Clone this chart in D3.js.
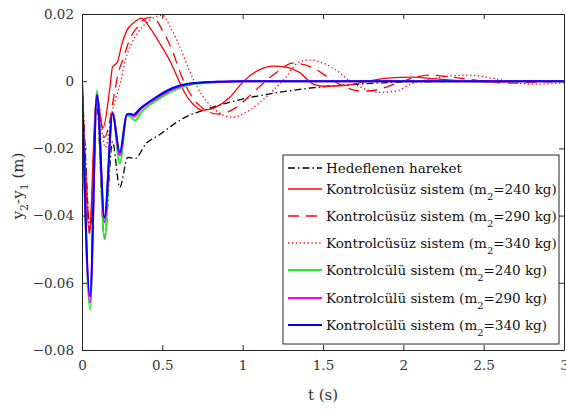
<!DOCTYPE html>
<html>
<head>
<meta charset="utf-8">
<script src="https://cdn.jsdelivr.net/npm/d3@7"></script>
<style>
  body { margin: 0; background: #fff; }
  svg { display: block; }
</style>
</head>
<body>
<div id="chart"></div>
<script>
const width = 566, height = 410;
const margin = { left: 82, right: 2, top: 14, bottom: 60 };
const serif = "'DejaVu Serif', serif";

// t (s), y2-y1 (m)
const desired = [[0,0],[0.02,-0.02],[0.05,-0.045],[0.09,-0.006],[0.14,-0.047],[0.19,-0.018],[0.235,-0.0316],[0.285,-0.0227],[0.33,-0.023],[0.40,-0.0185],[0.48,-0.016],[0.62,-0.0113],[0.81,-0.0078],[1.02,-0.0051],[1.23,-0.0033],[1.43,-0.002],[1.65,-0.0011],[1.85,-0.0005],[2.06,-0.0002],[2.5,-0.0001],[3,0]];
const unc240 = [[0,0],[0.02,-0.025],[0.045,-0.0455],[0.09,-0.004],[0.13,-0.014],[0.174,-0.0018],[0.19,0.0042],[0.22,0.0057],[0.25,0.0113],[0.28,0.0152],[0.32,0.0173],[0.37,0.0188],[0.42,0.0161],[0.48,0.0116],[0.55,0.0058],[0.60,0.0005],[0.64,-0.0035],[0.69,-0.0068],[0.75,-0.0087],[0.83,-0.0078],[0.92,-0.0048],[1.0,-0.0003],[1.1,0.0033],[1.19,0.0045],[1.27,0.0042],[1.35,0.0027],[1.44,-0.0009],[1.5,-0.0015],[1.65,-0.0012],[1.75,-0.0003],[1.9,0.0009],[2.06,0.0012],[2.22,0.0006],[2.4,0],[2.6,-0.0003],[2.8,0],[3,0]];
const unc290 = [[0,0],[0.02,-0.024],[0.048,-0.0445],[0.092,-0.0045],[0.14,-0.0167],[0.205,-0.0027],[0.22,0.0012],[0.26,0.0072],[0.30,0.0128],[0.34,0.0158],[0.40,0.0188],[0.44,0.019],[0.50,0.0152],[0.56,0.0093],[0.62,0.0015],[0.67,-0.0035],[0.73,-0.0072],[0.85,-0.0098],[0.96,-0.0078],[1.06,-0.0036],[1.15,0.0003],[1.23,0.0033],[1.31,0.0054],[1.44,0.0039],[1.54,0.0009],[1.64,-0.0018],[1.75,-0.003],[1.85,-0.0024],[1.96,-0.0006],[2.16,0.0018],[2.3,0.0012],[2.45,0.0003],[2.65,-0.0006],[2.8,-0.0004],[3,0]];
const unc340 = [[0,0],[0.02,-0.023],[0.052,-0.043],[0.095,-0.005],[0.145,-0.0197],[0.19,-0.0087],[0.24,-0.0003],[0.27,0.0063],[0.31,0.0113],[0.35,0.0146],[0.40,0.0173],[0.45,0.019],[0.50,0.0197],[0.55,0.0161],[0.61,0.0101],[0.67,0.003],[0.72,-0.002],[0.78,-0.0062],[0.86,-0.0096],[0.94,-0.0107],[1.02,-0.0093],[1.1,-0.0066],[1.19,-0.0027],[1.27,0.0012],[1.35,0.0057],[1.42,0.0063],[1.5,0.0054],[1.6,0.0027],[1.66,0.0003],[1.75,-0.0021],[1.85,-0.0033],[1.95,-0.003],[2.06,-0.0006],[2.2,0.0009],[2.3,0.0016],[2.41,0.0018],[2.55,0.0009],[2.72,-0.0006],[2.83,-0.0009],[2.97,-0.0006],[3,-0.0005]];
const ctl240 = [[0,0],[0.05,-0.068],[0.093,-0.0027],[0.14,-0.047],[0.19,-0.009],[0.235,-0.0245],[0.28,-0.0102],[0.3,-0.0105],[0.33,-0.0117],[0.37,-0.0092],[0.46,-0.0058],[0.56,-0.003],[0.67,-0.0011],[0.84,-0.0003],[1.0,0],[3,0]];
const ctl290 = [[0,0],[0.05,-0.066],[0.093,-0.0038],[0.14,-0.042],[0.19,-0.0094],[0.235,-0.022],[0.28,-0.0099],[0.3,-0.0099],[0.325,-0.0105],[0.36,-0.0086],[0.46,-0.0052],[0.56,-0.0024],[0.67,-0.0008],[0.84,-0.0002],[1.0,0],[3,0]];
const ctl340 = [[0,0],[0.05,-0.064],[0.093,-0.0042],[0.14,-0.0406],[0.19,-0.0096],[0.235,-0.0212],[0.28,-0.0098],[0.3,-0.0097],[0.32,-0.01],[0.36,-0.0082],[0.46,-0.0048],[0.56,-0.0021],[0.67,-0.0007],[0.84,-0.0002],[1.0,0],[3,0]];

const xTicks = [0, 0.5, 1, 1.5, 2, 2.5, 3];
const yTicks = [0.02, 0, -0.02, -0.04, -0.06, -0.08];

const series = [
  { data: desired, color: "#000", width: 1.3, dash: "7,3,1.5,3", name: "Hedeflenen hareket", mass: null },
  { data: unc240, color: "#ff0000", width: 1.3, dash: null, name: "Kontrolcüsüz sistem (m", mass: "240" },
  { data: unc290, color: "#ff0000", width: 1.3, dash: "11,7", name: "Kontrolcüsüz sistem (m", mass: "290" },
  { data: unc340, color: "#ff0000", width: 1.3, dash: "1.3,2.6", name: "Kontrolcüsüz sistem (m", mass: "340" },
  { data: ctl240, color: "#22ee22", width: 2, dash: null, name: "Kontrolcülü sistem (m", mass: "240" },
  { data: ctl290, color: "#ff00ff", width: 2, dash: null, name: "Kontrolcülü sistem (m", mass: "290" },
  { data: ctl340, color: "#0000ff", width: 2, dash: null, name: "Kontrolcülü sistem (m", mass: "340" }
];

const svg = d3.select("#chart").append("svg")
  .attr("width", width).attr("height", height)
  .attr("font-family", serif);

const x = d3.scaleLinear().domain([0, 3]).range([margin.left, width - margin.right]);
const y = d3.scaleLinear().domain([-0.08, 0.02]).range([height - margin.bottom, margin.top]);

svg.append("clipPath").attr("id", "clip")
  .append("rect")
  .attr("x", margin.left).attr("y", margin.top)
  .attr("width", width - margin.right - margin.left)
  .attr("height", height - margin.bottom - margin.top);

const line = d3.line()
  .x(d => x(d[0])).y(d => y(d[1]))
  .curve(d3.curveMonotoneX);

const plot = svg.append("g").attr("clip-path", "url(#clip)");
series.forEach(s => {
  plot.append("path")
    .attr("d", line(s.data))
    .attr("fill", "none")
    .attr("stroke", s.color)
    .attr("stroke-width", s.width)
    .attr("stroke-dasharray", s.dash);
});

// axes (ticks inward, on all four sides)
const axisColor = "#262626";
const fmt = d => d === 0 ? "0" : d3.format("")(d);
const bottomAx = svg.append("g")
  .attr("transform", `translate(0,${height - margin.bottom})`)
  .call(d3.axisBottom(x).tickValues(xTicks).tickSizeInner(-5).tickSizeOuter(0).tickPadding(10).tickFormat(fmt));
const leftAx = svg.append("g")
  .attr("transform", `translate(${margin.left},0)`)
  .call(d3.axisLeft(y).tickValues(yTicks).tickSizeInner(-5).tickSizeOuter(0).tickPadding(8).tickFormat(fmt));
const topAx = svg.append("g")
  .attr("transform", `translate(0,${margin.top})`)
  .call(d3.axisTop(x).tickValues(xTicks).tickSizeInner(-5).tickSizeOuter(0).tickFormat(""));
const rightAx = svg.append("g")
  .attr("transform", `translate(${width - margin.right},0)`)
  .call(d3.axisRight(y).tickValues(yTicks).tickSizeInner(-5).tickSizeOuter(0).tickFormat(""));

[bottomAx, leftAx, topAx, rightAx].forEach(g => {
  g.attr("font-family", serif);
  g.selectAll("path, line").attr("stroke", axisColor);
  g.selectAll("text")
    .attr("font-size", 13.5)
    .attr("fill", "#333");
});

// axis titles
svg.append("text")
  .attr("x", (x(0) + x(3)) / 2).attr("y", 400)
  .attr("text-anchor", "middle")
  .attr("font-size", 15).attr("fill", "#333")
  .text("t (s)");

const yl = svg.append("text")
  .attr("transform", "translate(23,186) rotate(-90)")
  .attr("text-anchor", "middle")
  .attr("font-size", 15).attr("fill", "#333");
yl.append("tspan").text("y");
yl.append("tspan").attr("font-size", 11).attr("dy", 5).text("2");
yl.append("tspan").attr("dy", -5).text("-y");
yl.append("tspan").attr("font-size", 11).attr("dy", 5).text("1");
yl.append("tspan").attr("dy", -5).text(" (m)");

// legend
const legendRows = [168, 189, 216, 243, 270, 298, 325];
const legend = svg.append("g");
legend.append("rect")
  .attr("x", 283).attr("y", 155).attr("width", 276).attr("height", 189)
  .attr("fill", "#fff").attr("stroke", axisColor).attr("stroke-width", 1);

series.forEach((s, i) => {
  const ry = legendRows[i];
  legend.append("line")
    .attr("x1", 288).attr("x2", 322).attr("y1", ry).attr("y2", ry)
    .attr("stroke", s.color).attr("stroke-width", s.width)
    .attr("stroke-dasharray", s.dash);
  const t = legend.append("text")
    .attr("x", 326).attr("y", ry + 5)
    .attr("font-size", 13.5).attr("fill", "#111");
  t.append("tspan").text(s.name);
  if (s.mass) {
    t.append("tspan").attr("font-size", 10).attr("dy", 6).text("2");
    t.append("tspan").attr("dy", -6).text(`=${s.mass} kg)`);
  }
});
</script>
</body>
</html>
